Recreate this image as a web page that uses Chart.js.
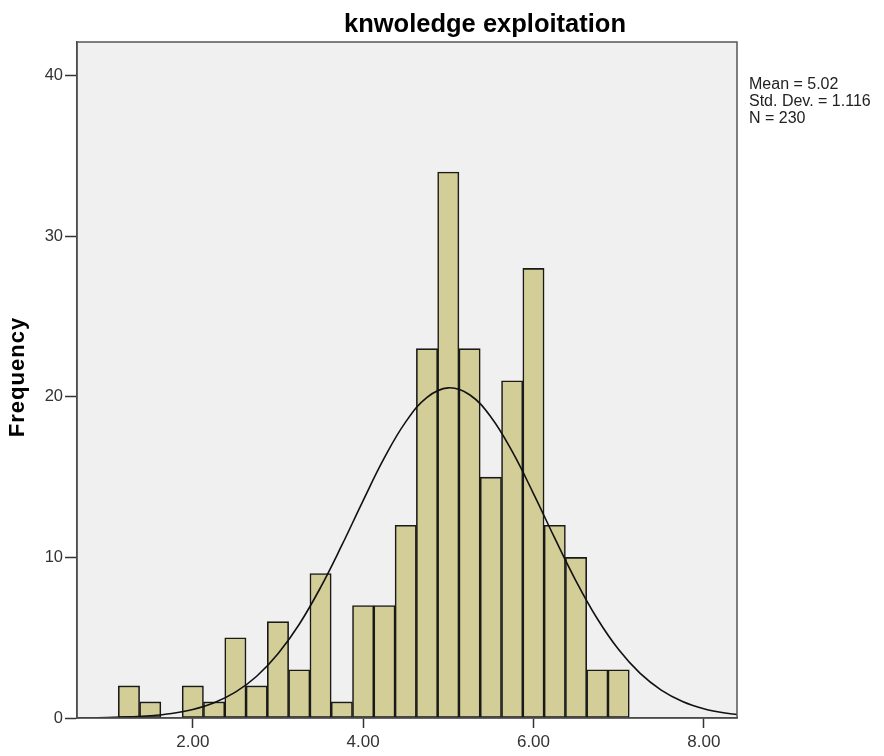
<!DOCTYPE html>
<html>
<head>
<meta charset="utf-8">
<script src="https://cdn.jsdelivr.net/npm/chart.js@4"></script>
<style>
  body { margin: 0; background: #fff; }
  #wrap { width: 884px; height: 756px; }
</style>
</head>
<body>
<div id="wrap"><canvas id="histChart" width="884" height="756"></canvas></div>
<script>
// Histogram bins (centres) and counts
const binCenters = [1.25, 1.5, 1.75, 2.0, 2.25, 2.5, 2.75, 3.0, 3.25, 3.5, 3.75, 4.0,
                    4.25, 4.5, 4.75, 5.0, 5.25, 5.5, 5.75, 6.0, 6.25, 6.5, 6.75, 7.0];
const frequencies = [2, 1, 0, 2, 1, 5, 2, 6, 3, 9, 1, 7,
                     7, 12, 23, 34, 23, 15, 21, 28, 12, 10, 3, 3];

// Normal curve
const curveX = [0.5, 0.75, 1.0, 1.25, 1.5, 1.75, 2.0, 2.25, 2.5, 2.75, 3.0, 3.25, 3.5, 3.75,
                4.0, 4.25, 4.5, 4.75, 5.0, 5.25, 5.5, 5.75, 6.0, 6.25, 6.5, 6.75, 7.0,
                7.25, 7.5, 7.75, 8.0, 8.25, 8.5];
const curveY = [0.01, 0.01, 0.03, 0.07, 0.14, 0.28, 0.53, 0.95, 1.61, 2.6, 4.0, 5.84, 8.13, 10.76,
                13.54, 16.21, 18.44, 19.97, 20.56, 20.13, 18.75, 16.6, 13.98, 11.2, 8.53, 6.18, 4.26,
                2.79, 1.74, 1.03, 0.58, 0.31, 0.16];

const xTicks = [2, 4, 6, 8];
const yTicks = [0, 10, 20, 30, 40];
const statsLines = ["Mean = 5.02", "Std. Dev. = 1.116", "N = 230"];

const barPoints = binCenters.map((x, i) => ({ x: x, y: frequencies[i] }));
const curvePoints = curveX.map((x, i) => ({ x: x, y: curveY[i] }));

const FONT = "'Liberation Sans', Arial, sans-serif";

// backgrounds, frame and free text
const decorPlugin = {
  id: "decor",
  beforeDraw(chart) {
    const { ctx, chartArea: a } = chart;
    ctx.save();
    ctx.fillStyle = "#ffffff";
    ctx.fillRect(0, 0, chart.width, chart.height);
    ctx.fillStyle = "#f0f0f0";
    ctx.fillRect(a.left, a.top, a.right - a.left, a.bottom - a.top);
    ctx.restore();
  },
  afterDraw(chart) {
    const { ctx, chartArea: a } = chart;
    ctx.save();
    ctx.strokeStyle = "#555";
    ctx.lineWidth = 1.5;
    ctx.strokeRect(a.left, a.top, a.right - a.left, a.bottom - a.top);

    ctx.fillStyle = "#000";
    ctx.font = "bold 25.5px " + FONT;
    ctx.textAlign = "center";
    ctx.textBaseline = "alphabetic";
    ctx.fillText("knwoledge exploitation", 485, 32);

    ctx.font = "16px " + FONT;
    ctx.fillStyle = "#222";
    ctx.textAlign = "left";
    statsLines.forEach((s, i) => ctx.fillText(s, 749, 89 + i * 17));

    ctx.translate(24, 377);
    ctx.rotate(-Math.PI / 2);
    ctx.textAlign = "center";
    ctx.font = "bold 22px " + FONT;
    ctx.letterSpacing = "1px";
    ctx.fillStyle = "#000";
    ctx.fillText("Frequency", 0, 0);
    ctx.restore();
  }
};

const histCtx = document.getElementById("histChart").getContext("2d");
const histChart = new Chart(histCtx, {
  type: "bar",
  data: {
    datasets: [
      {
        type: "line",
        data: curvePoints,
        borderColor: "#111",
        borderWidth: 1.6,
        pointRadius: 0,
        tension: 0.4,
        fill: false
      },
      {
        type: "bar",
        data: barPoints,
        backgroundColor: "#d3ce97",
        borderColor: "#1a1a1a",
        borderWidth: 1.6,
        borderSkipped: false,
        barPercentage: 1.0,
        categoryPercentage: 1.0
      }
    ]
  },
  options: {
    responsive: false,
    animation: false,
    layout: { padding: { top: 42, right: 147, left: 0, bottom: 0 } },
    plugins: {
      legend: { display: false },
      tooltip: { enabled: false }
    },
    scales: {
      x: {
        type: "linear",
        min: 0.64,
        max: 8.39,
        offset: false,
        afterFit: (scale) => { scale.height = 38; },
        afterBuildTicks: (scale) => { scale.ticks = xTicks.map(v => ({ value: v })); },
        grid: { drawOnChartArea: false, offset: false, color: "#333", tickLength: 10, tickWidth: 1.5 },
        border: { display: true, color: "#333", width: 1.5 },
        ticks: {
          padding: 4,
          color: "#333",
          font: { family: FONT, size: 17 },
          callback: (v) => Number(v).toFixed(2)
        }
      },
      y: {
        min: 0,
        max: 42.1,
        afterFit: (scale) => { scale.width = 77; },
        afterBuildTicks: (scale) => { scale.ticks = yTicks.map(v => ({ value: v })); },
        grid: { drawOnChartArea: false, color: "#333", tickLength: 12, tickWidth: 1.5 },
        border: { display: true, color: "#333", width: 1.5 },
        ticks: {
          padding: 2,
          color: "#333",
          font: { family: FONT, size: 16.5 },
          callback: (v) => String(v)
        }
      }
    }
  },
  plugins: [decorPlugin]
});
</script>
</body>
</html>
